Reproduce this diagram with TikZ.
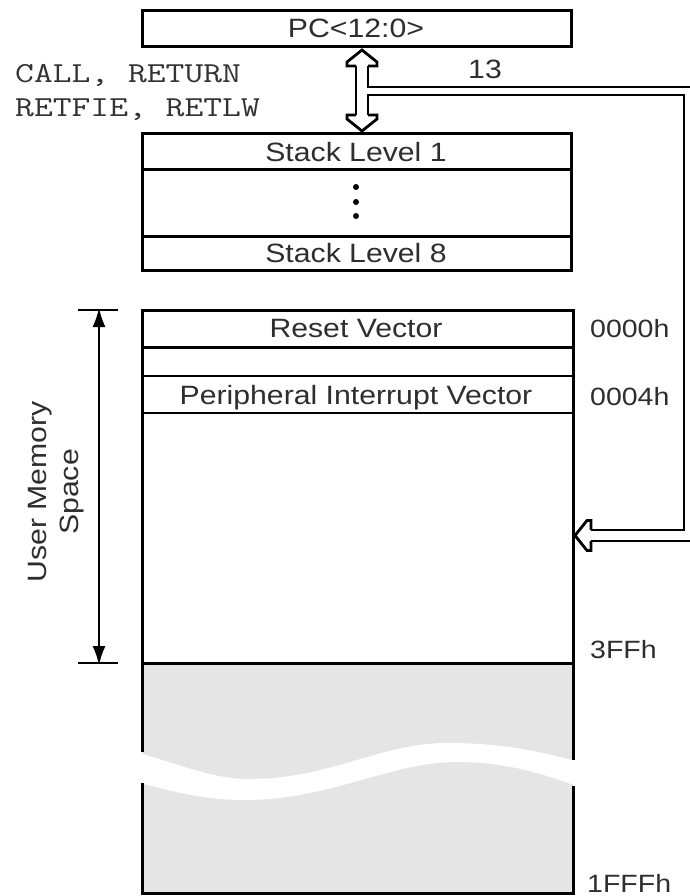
\documentclass[tikz,border=0pt]{standalone}
\usepackage{fontspec}
\setmainfont{Liberation Sans}[FakeStretch=1.14]
\usetikzlibrary{arrows.meta}
\begin{document}
\begin{tikzpicture}[x=1pt,y=-1pt,
  box/.style={line width=3pt},
  thinline/.style={line width=1.6pt},
  lbl/.style={font=\fontsize{26.5}{32}\selectfont, text=black!82, inner sep=0pt},
  hex/.style={font=\fontsize{25}{28}\selectfont, text=black!82, inner sep=0pt, anchor=base west},
  mono/.style={font=\ttfamily\fontsize{29}{32}\selectfont, text=black!80, inner sep=0pt, anchor=base west},
  bus/.style={line width=2pt, line join=miter},
  bushead/.style={line width=2.8pt, line join=miter},
  dimtip/.style={{Latex[length=19pt,width=13pt]}-{Latex[length=19pt,width=13pt]}}]
\useasboundingbox (0,0) rectangle (690,896);
\fill[white] (0,0) rectangle (690,896);

% PC register
\draw[box] (142,11) rectangle (571,47);
\node[lbl, anchor=base] (pc) at (356,38) {PC<12:0>};
\node[lbl, anchor=base] (n13) at (485,79) {13};

% instructions
\node[mono] (calls) at (15,83) {\scalebox{1.26}[1]{CALL, RETURN}};
\node[mono] (rets) at (15,117) {\scalebox{1.26}[1]{RETFIE, RETLW}};

% stack
\draw[box] (142,134) rectangle (571,270);
\draw[box] (142,170) -- (571,170);
\draw[box] (142,236) -- (571,236);
\node[lbl, anchor=base] (s1) at (356,162) {Stack Level 1};
\node[lbl, anchor=base] (s8) at (356,262) {Stack Level 8};
\fill (356,187) circle (3) (356,202) circle (3) (356,216) circle (3);

% bus double arrow and loop
\begin{scope}
\clip (0,0) rectangle (690,896);
\draw[bushead] (356,66) -- (347,66) -- (347,62) -- (362,50) -- (377,62) -- (377,66) -- (368,66);
\draw[bushead] (356,115) -- (347,115) -- (347,119) -- (362,131) -- (377,119) -- (377,115) -- (368,115);
\draw[bus] (356,66) -- (356,115);
\draw[bus] (368,66) -- (368,87) -- (697,87) -- (697,541) -- (591,541);
\draw[bus] (368,115) -- (368,95) -- (684,95) -- (684,530) -- (591,530);
\draw[bushead] (591,530) -- (591,520.5) -- (587,520.5) -- (575,535.5) -- (587,550.5) -- (591,550.5) -- (591,541);
\end{scope}

% gray region
\fill[gray!20] (142,663) rectangle (573,893);
\fill[white] (136,752) .. controls (190,768) and (215,779) .. (250,779)
  .. controls (330,779) and (380,743) .. (447,743)
  .. controls (505,743) and (540,752) .. (580,762)
  -- (580,787)
  .. controls (545,775) and (510,762) .. (457,762)
  .. controls (390,762) and (330,800) .. (245,800)
  .. controls (205,800) and (175,792) .. (136,782) -- cycle;
\draw[box] (142,663) -- (142,752);
\draw[box] (142,783) -- (142,893) -- (573,893) -- (573,786);
\draw[box] (573,760) -- (573,663);

% memory map
\draw[box] (142,310) rectangle (573,663);
\draw[box] (142,347) -- (573,347);
\draw[thinline] (142,376) -- (573,376);
\draw[thinline] (142,413) -- (573,413);
\node[lbl, anchor=base] (rv) at (356,337) {Reset Vector};
\node[lbl, anchor=base] (piv) at (356,404) {Peripheral Interrupt Vector};
\node[hex] (a0) at (590,337) {0000h};
\node[hex] (a4) at (590,405) {0004h};
\node[hex] (a3ff) at (590,658) {3FFh};
\node[hex] (a1fff) at (587,892) {1FFFh};

% dimension
\coordinate (dt) at (99,310);
\coordinate (db) at (99,663);
\draw[line width=2.4pt] (78,310) -- (118,310);
\draw[line width=2.4pt] (78,663) -- (118,663);
\draw[line width=1.8pt, dimtip] ([yshift=2pt]dt) -- ([yshift=-2pt]db);
\node[lbl, rotate=90, align=center] (ums) at (56,492) {User Memory\\Space};
\end{tikzpicture}
\end{document}
